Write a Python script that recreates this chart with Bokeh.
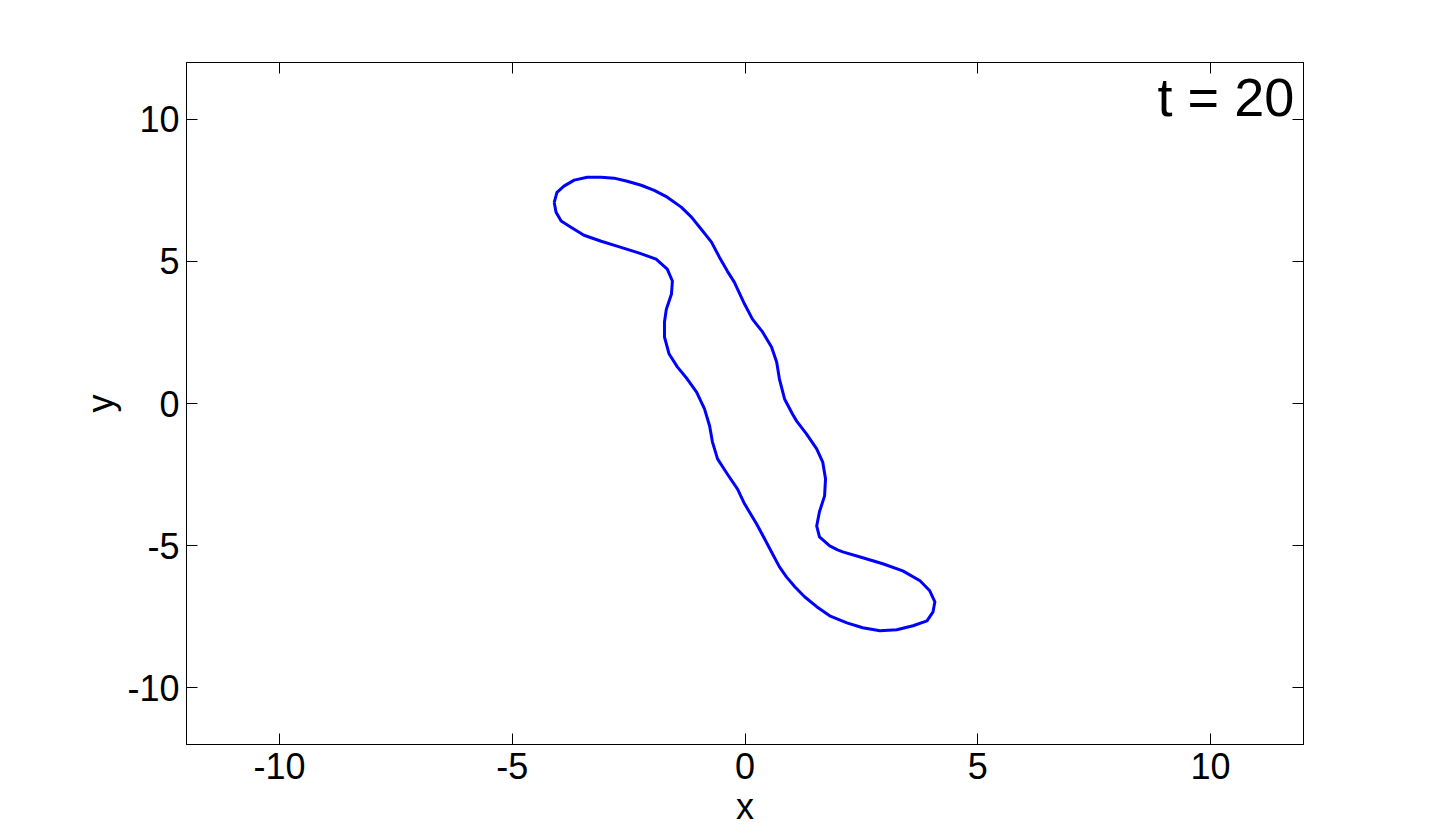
from bokeh.plotting import figure
from bokeh.models import Range1d, LinearAxis, FixedTicker, Label
from bokeh.embed import file_html
from bokeh.resources import INLINE

# Traced contour at t = 20 (data units)
x_pts = [-4.10, -4.04, -3.89, -3.67, -3.39, -3.09, -2.81, -2.53, -2.23, -1.95,
         -1.67, -1.37, -1.15, -0.94, -0.72, -0.55, -0.38, -0.23, -0.01, 0.16,
         0.38, 0.57, 0.68, 0.74, 0.85, 1.02, 1.11, 1.32, 1.54, 1.67,
         1.73, 1.71, 1.60, 1.54, 1.60, 1.82, 1.99, 2.10, 2.53, 2.96,
         3.39, 3.76, 3.97, 4.08, 4.04, 3.91, 3.61, 3.26, 2.90, 2.53,
         2.19, 1.82, 1.54, 1.28, 1.07, 0.89, 0.74, 0.59, 0.42, 0.25,
         -0.01, -0.16, -0.38, -0.59, -0.70, -0.76, -0.87, -1.04, -1.24, -1.45,
         -1.63, -1.73, -1.73, -1.69, -1.58, -1.56, -1.67, -1.91, -2.27, -2.75,
         -3.09, -3.46, -3.74, -3.95, -4.06, -4.10]
y_pts = [7.08, 7.43, 7.65, 7.86, 7.96, 7.96, 7.93, 7.82, 7.68, 7.50,
         7.26, 6.91, 6.56, 6.13, 5.68, 5.15, 4.66, 4.27, 3.50, 2.97,
         2.51, 1.99, 1.46, 0.86, 0.16, -0.37, -0.62, -1.07, -1.60, -2.06,
         -2.65, -3.25, -3.81, -4.31, -4.69, -5.01, -5.15, -5.22, -5.43, -5.64,
         -5.89, -6.24, -6.59, -6.98, -7.33, -7.65, -7.82, -7.96, -8.00, -7.89,
         -7.72, -7.47, -7.15, -6.80, -6.45, -6.10, -5.75, -5.29, -4.76, -4.24,
         -3.53, -3.01, -2.48, -1.95, -1.35, -0.79, -0.19, 0.40, 0.86, 1.28,
         1.74, 2.34, 2.87, 3.32, 3.85, 4.31, 4.73, 5.08, 5.29, 5.54,
         5.71, 5.92, 6.20, 6.42, 6.73, 7.08]

ticks = [-10, -5, 0, 5, 10]
tick_labels = ["-10", "-5", "0", "5", "10"]
title_text = "t = 20"
x_label = "x"
y_label = "y"

FONT = "Liberation Sans"

p = figure(width=1424, height=838, output_backend="svg", toolbar_location=None,
           x_range=Range1d(-12, 12), y_range=Range1d(-12, 12),
           min_border_left=186, min_border_right=121,
           min_border_top=62, min_border_bottom=94)
p.xgrid.visible = False
p.ygrid.visible = False
p.outline_line_color = "black"
p.outline_line_width = 1
p.background_fill_color = "white"
p.border_fill_color = "white"

p.line(x_pts, y_pts, line_color="#0000FF", line_width=3, line_join="round")

def style(ax, labels=True):
    ax.ticker = FixedTicker(ticks=ticks)
    ax.minor_tick_line_color = None
    ax.major_tick_in = 11
    ax.major_tick_out = 0
    ax.axis_line_color = "black"
    ax.major_tick_line_color = "black"
    if labels:
        ax.major_label_overrides = dict(zip(ticks, tick_labels))
        ax.major_label_text_font = FONT
        ax.major_label_text_font_size = "36px"
        ax.major_label_text_color = "black"
        ax.axis_label_text_font = FONT
        ax.axis_label_text_font_size = "36px"
        ax.axis_label_text_font_style = "normal"
        ax.axis_label_text_color = "black"
    else:
        ax.major_label_overrides = {t: "" for t in ticks}
        ax.major_label_standoff = 0

style(p.xaxis[0])
style(p.yaxis[0])
p.xaxis[0].axis_label = x_label
p.yaxis[0].axis_label = y_label
p.xaxis[0].major_label_standoff = 8
p.yaxis[0].major_label_standoff = 7
p.xaxis[0].axis_label_standoff = 4
p.yaxis[0].axis_label_standoff = 3

top = LinearAxis()
style(top, labels=False)
right = LinearAxis()
style(right, labels=False)
p.add_layout(top, "above")
p.add_layout(right, "right")

lab = Label(x=11.8, y=10.78, text=title_text, text_align="right",
            text_baseline="alphabetic", text_font=FONT,
            text_font_size="54px", text_color="black")
p.add_layout(lab)

open("out.html", "w").write(file_html(p, INLINE))
